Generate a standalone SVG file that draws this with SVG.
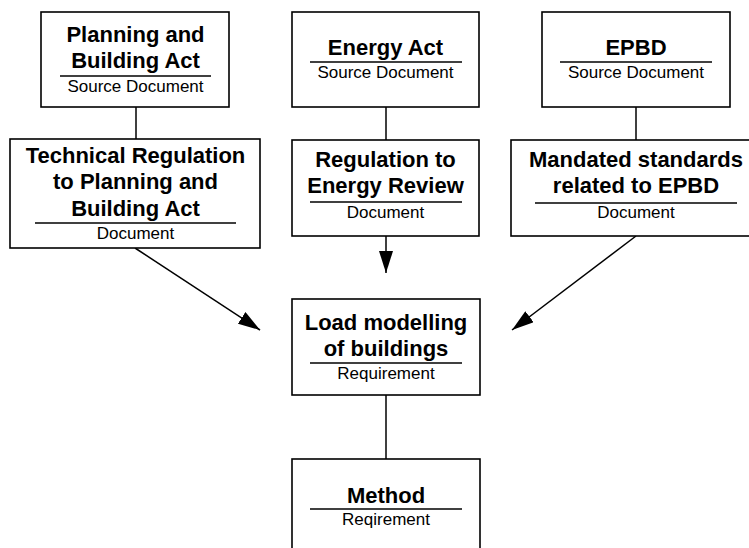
<svg xmlns="http://www.w3.org/2000/svg" width="749" height="548" viewBox="0 0 749 548">
<defs>
<marker id="arr" markerUnits="userSpaceOnUse" markerWidth="22" markerHeight="14" refX="22" refY="7" orient="auto">
<path d="M0,0 L22,7 L0,14 z" fill="#000"/>
</marker>
<style>
.box{fill:#fff;stroke:#000;stroke-width:1.6}
.t{font-family:"Liberation Sans",Arial,sans-serif;font-size:22px;font-weight:bold;text-anchor:middle;fill:#000}
.s{font-family:"Liberation Sans",Arial,sans-serif;font-size:17px;text-anchor:middle;fill:#000}
.u{stroke:#000;stroke-width:1.4}
.c{stroke:#000;stroke-width:1.5;fill:none}
</style>
</defs>
<rect width="749" height="548" fill="#fff"/>
<g id="connectors">
<line class="c" x1="136" y1="107" x2="136" y2="139"/>
<line class="c" x1="386" y1="107" x2="386" y2="140"/>
<line class="c" x1="636" y1="107" x2="636" y2="140"/>
<line class="c" x1="386" y1="236" x2="386" y2="273" marker-end="url(#arr)"/>
<line class="c" x1="135" y1="248" x2="260" y2="330" marker-end="url(#arr)"/>
<line class="c" x1="636" y1="236" x2="512" y2="330" marker-end="url(#arr)"/>
<line class="c" x1="386" y1="395" x2="386" y2="459"/>
</g>
<g id="planning">
<rect class="box" x="41" y="12" width="188" height="95"/>
<text class="t" x="135.5" y="42">Planning and</text>
<text class="t" x="135.5" y="68">Building Act</text>
<line class="u" x1="60" y1="76" x2="211" y2="76"/>
<text class="s" x="135.5" y="92">Source Document</text>
</g>
<g id="energy">
<rect class="box" x="292" y="12" width="187" height="95"/>
<text class="t" x="385.5" y="55">Energy Act</text>
<line class="u" x1="310" y1="62" x2="462" y2="62"/>
<text class="s" x="385.5" y="78">Source Document</text>
</g>
<g id="epbd">
<rect class="box" x="542" y="12" width="188" height="95"/>
<text class="t" x="636" y="55">EPBD</text>
<line class="u" x1="560" y1="62" x2="712" y2="62"/>
<text class="s" x="636" y="78">Source Document</text>
</g>
<g id="technical">
<rect class="box" x="10" y="139" width="250" height="109"/>
<text class="t" x="135.5" y="163">Technical Regulation</text>
<text class="t" x="135.5" y="189">to Planning and</text>
<text class="t" x="135.5" y="216">Building Act</text>
<line class="u" x1="35" y1="223" x2="236" y2="223"/>
<text class="s" x="135.5" y="239">Document</text>
</g>
<g id="regulation">
<rect class="box" x="292" y="140" width="187" height="96"/>
<text class="t" x="385.5" y="167">Regulation to</text>
<text class="t" x="385.5" y="193">Energy Review</text>
<line class="u" x1="310" y1="202" x2="462" y2="202"/>
<text class="s" x="385.5" y="218">Document</text>
</g>
<g id="mandated">
<rect class="box" x="511" y="140" width="250" height="96"/>
<text class="t" x="636" y="167">Mandated standards</text>
<text class="t" x="636" y="193">related to EPBD</text>
<line class="u" x1="535" y1="203" x2="737" y2="203"/>
<text class="s" x="636" y="218">Document</text>
</g>
<g id="load">
<rect class="box" x="292" y="299" width="188" height="96"/>
<text class="t" x="386" y="330">Load modelling</text>
<text class="t" x="386" y="356">of buildings</text>
<line class="u" x1="310" y1="363" x2="462" y2="363"/>
<text class="s" x="386" y="379">Requirement</text>
</g>
<g id="method">
<rect class="box" x="292" y="459" width="188" height="100"/>
<text class="t" x="386" y="503">Method</text>
<line class="u" x1="310" y1="509" x2="462" y2="509"/>
<text class="s" x="386" y="525">Reqirement</text>
</g>
</svg>
